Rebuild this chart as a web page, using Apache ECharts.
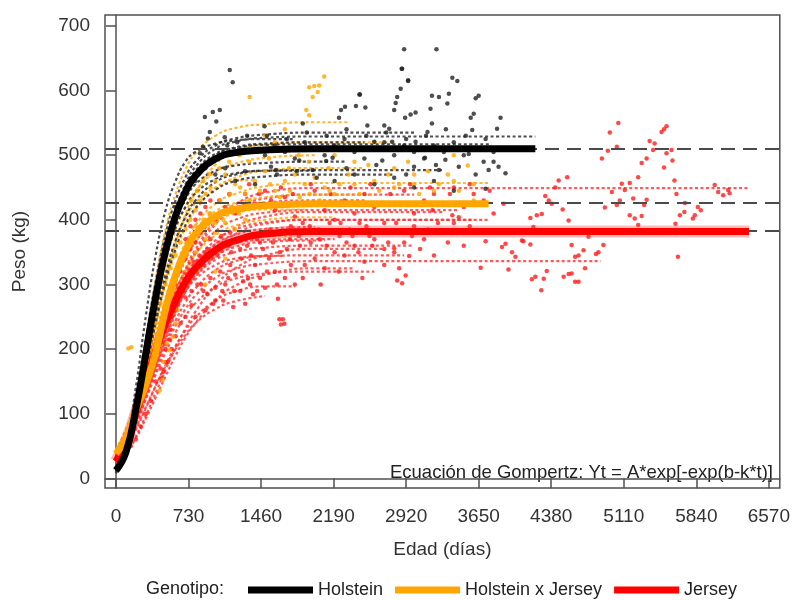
<!DOCTYPE html>
<html>
<head>
<meta charset="utf-8">
<script src="https://cdn.jsdelivr.net/npm/echarts@6/dist/echarts.min.js"></script>
<style>html,body{margin:0;padding:0;background:#fff}#c{width:793px;height:600px}</style>
</head>
<body>
<div id="c"></div>
<script>
// ---------- data ----------
const ages = [0, 100, 200, 300, 400, 500, 600, 700, 800, 1000, 1200, 1500, 2000];
const xTicks = [0, 730, 1460, 2190, 2920, 3650, 4380, 5110, 5840, 6570];
const yTicks = [0, 100, 200, 300, 400, 500, 600, 700];
const refLevels = [510, 426, 383];

// mean Gompertz curves per genotype (value at each age in `ages`), and last age drawn
const holsteinMean = [12, 40, 106, 192, 280, 352, 406, 443, 468, 494, 504, 508, 510];
const holsteinMeanEnd = 4220;
const hxjMean = [38, 62, 105, 145, 195, 262, 315, 352, 378, 405, 416, 422, 425];
const hxjMeanEnd = 3750;
const jerseyMean = [26, 57, 101, 149, 197, 240, 275, 304, 325, 353, 368, 378, 382];
const jerseyMeanEnd = 6370;

// individual animal curves: [lastAge, values...]
const holsteinAnimals = [
  [4220, 10, 38, 105, 195, 285, 360, 415, 455, 482, 510, 521, 527, 529],
  [3780, 12, 42, 112, 203, 292, 362, 415, 452, 476, 502, 511, 516, 517],
  [3280, 15, 45, 112, 195, 275, 340, 388, 420, 441, 463, 472, 476, 477],
  [2500, 8, 35, 100, 190, 280, 352, 405, 445, 472, 500, 512, 518, 520],
  [2300, 12, 44, 115, 205, 290, 355, 400, 432, 455, 476, 484, 488, 490],
  [1800, 12, 50, 140, 250, 345, 415, 460, 490, 505, 518, 523, 525],
  [2800, 14, 40, 95, 165, 240, 305, 355, 392, 418, 446, 460, 467, 470],
  [3000, 12, 45, 120, 215, 305, 378, 430, 466, 490, 515, 526, 532, 535],
  [2000, 14, 42, 100, 175, 250, 315, 368, 405, 430, 458, 470, 476]
];
const hxjAnimals = [
  [3750, 40, 68, 110, 160, 215, 275, 325, 365, 392, 425, 440, 452, 457],
  [2350, 35, 60, 120, 210, 305, 385, 440, 478, 503, 530, 542, 548, 551],
  [2000, 40, 70, 125, 195, 270, 335, 385, 420, 445, 474, 487, 496, 500],
  [2600, 45, 75, 120, 170, 225, 280, 325, 360, 385, 413, 426, 435, 439],
  [2200, 42, 70, 112, 158, 205, 250, 290, 322, 347, 376, 391, 400, 404],
  [1800, 40, 65, 102, 143, 185, 227, 264, 295, 318, 348, 364, 375],
  [1400, 42, 72, 125, 190, 260, 320, 368, 402, 426, 450, 461],
  [2500, 38, 66, 115, 175, 240, 300, 350, 388, 415, 448, 465, 476, 480],
  [1900, 44, 74, 118, 165, 215, 262, 305, 340, 366, 396, 410, 416],
  [2800, 36, 62, 108, 168, 238, 305, 362, 408, 442, 485, 506, 516, 520]
];
const jerseyAnimals = [
  [6380, 30, 60, 100, 148, 198, 245, 288, 324, 354, 398, 424, 442, 449],
  [3750, 28, 58, 100, 147, 195, 240, 278, 310, 335, 368, 385, 396, 400],
  [4875, 25, 50, 85, 125, 165, 203, 236, 262, 283, 310, 324, 332, 336],
  [3580, 30, 55, 90, 130, 172, 215, 255, 290, 318, 356, 378, 394, 400],
  [3450, 28, 58, 100, 150, 200, 248, 288, 322, 348, 382, 400, 411, 415],
  [3000, 26, 55, 95, 140, 185, 227, 262, 290, 312, 338, 350, 357, 360],
  [2500, 30, 60, 104, 155, 208, 258, 302, 338, 366, 402, 419, 427, 430],
  [2600, 25, 50, 84, 122, 160, 195, 226, 251, 271, 296, 309, 317, 320],
  [2200, 28, 60, 105, 155, 205, 250, 286, 314, 334, 356, 365, 369, 370],
  [1800, 22, 45, 75, 108, 143, 176, 205, 229, 249, 275, 289, 297],
  [2900, 27, 56, 96, 141, 187, 228, 262, 289, 308, 330, 340, 344, 345],
  [2000, 30, 58, 98, 145, 193, 238, 277, 308, 332, 362, 377, 386, 389],
  [3000, 28, 55, 92, 137, 185, 233, 277, 316, 348, 393, 417, 433, 439],
  [1500, 25, 48, 78, 110, 143, 174, 200, 222, 240, 262, 274, 282],
  [2400, 20, 38, 62, 92, 125, 158, 190, 218, 240, 275, 298, 315, 325],
  [2700, 22, 40, 65, 97, 132, 168, 202, 232, 258, 298, 325, 345, 355],
  [3300, 26, 52, 88, 130, 175, 220, 260, 294, 322, 362, 388, 405, 412],
  [2100, 28, 57, 96, 140, 185, 226, 262, 292, 314, 343, 358, 366, 368],
  [1700, 24, 50, 86, 128, 170, 210, 244, 272, 294, 322, 336, 344]
];

// observed weights [age, kg]
const holsteinObs = [
  [2880,634],[2865,603],[2940,615],[2455,594],[2830,590],[3180,592],[3250,590],[3350,595],[3385,620],[3435,615],
  [3650,592],[3620,588],[2815,581],[2800,570],[2965,563],[3015,566],[2910,558],[3165,572],[3335,580],[3600,564],
  [3570,558],[3870,558],[3835,541],[2415,576],[2510,574],[2305,575],[2265,570],[2245,558],[1880,549],[1495,545],
  [2530,546],[2700,546],[2750,541],[3180,549],[3135,536],[3585,539],[2115,491],[2180,496],[2680,492],[3110,496],
  [3315,493],[3450,482],[3750,477],[3800,490],[3920,472],[3550,502],[3400,510],[3015,521],[2780,521],[2600,521],
  [1980,477],[1610,477],[1560,482],[1845,492],[3000,482],[3250,477],[3720,448],[3850,482],
  [1145,632],[1175,613],[975,567],[1045,570],[895,559],[1010,552],[945,536],[925,526],[1095,528],[875,513],[845,503],
  [2900,664],[3225,664],[2875,634],[2940,616],[2450,594],
  [1500,500],[1600,515],[1700,505],[1800,495],[1900,520],[2000,510],[2100,500],[2200,515],[2300,525],[2400,505],
  [2500,495],[2600,510],[2700,520],[2800,500],[2900,515],[3000,505],[3100,495],[3200,515],[3300,505],[3400,520],
  [3500,500],[3600,510],[3700,490],[3800,505],[1000,470],[1100,480],[1200,460],[1300,475],[1400,455],[900,480],
  [800,460],[700,440],[600,420],[2200,460],[2400,470],[2600,455],[2800,465],[3000,450],[3200,460],[3400,445],
  [1520,530],[1720,525],[1920,535],[2120,530],[2320,540],[2520,530],[2720,535],[2920,525],[3120,530],[3320,540],
  [3520,530],[3720,525],[1220,520],[1320,530],[1120,515],[1620,470],[1820,475],[2020,465],[2320,480],[2620,485],
  [2920,470],[3220,485],[3620,470]
];
const hxjObs = [
  [300,180],[350,210],[400,240],[450,270],[500,300],[550,325],[600,345],[650,365],[700,385],[750,400],
  [800,415],[850,430],[900,440],[950,450],[1000,460],[1100,470],[1200,455],[1300,440],[1400,460],[1500,475],
  [1600,445],[1700,460],[1800,470],[1900,455],[2000,465],[2100,450],[2200,440],[2400,455],[2600,460],[2800,450],
  [3000,455],[3200,445],[3400,460],[3600,455],[155,203],[125,201],[540,198],[470,152],[440,136],[510,209],
  [575,219],[600,240],[620,260],[480,180],[2095,622],[2045,608],[1995,607],[1945,605],[2030,598],[1980,590],
  [1915,570],[1945,562],[1345,590],[1500,530],[1600,520],[1700,540],[1800,510],[2200,500],[2400,490],[2600,520],
  [2800,480],[3000,470],[3400,500],[3600,430],[800,350],[900,370],[1000,380],[1100,395],[1200,385],[1300,400],
  [900,300],[1000,320],[1100,340],[700,300],[800,320],[3540,484],
  [760,430],[820,445],[880,460],[940,470],[1040,480],[1140,490],[1240,500],[1340,490],[1440,505],[1540,495],
  [1640,510],[1740,480],[1840,500],[1940,490],[2140,480],[2340,470],[2540,485],[2740,470],[2940,490],[3140,475],
  [3340,470],[650,330],[700,345],[750,370],[850,390],[950,410],[1050,430],[1150,440],[1250,450],[1350,430],
  [1450,445],[1550,455],[1650,435],[1750,445],[1850,435],[1950,440],[2050,430],[2150,445],[2250,455],[2450,440],
  [2650,445],[2850,455],[3050,440],[3250,455],[3450,445],[400,190],[450,215],[500,250],[550,280],[350,160],
  [250,120],[200,100],[150,80],
  [450,240],[520,275],[560,300],[620,325],[680,345],[740,362],[780,375],[840,385],[900,393],[960,400],
  [1020,405],[1100,410],[1180,413],[1260,418],[1340,420],[1420,421],[500,250],[580,295],[660,330],[720,365],
  [800,390],[880,400],[940,410],[1000,395],[1080,400],[1160,420],[1240,410],[1320,428]
];
const jerseyObs = [
  [700,280],[760,268],[820,300],[880,290],[950,310],[1000,295],[1050,320],[1100,300],[1150,330],[1200,315],
  [1250,290],[1300,270],[1350,300],[1400,330],[1450,310],[650,240],[600,220],[560,200],[520,180],[480,165],
  [800,250],[900,260],[980,270],[1080,275],[1180,265],[1280,305],[1380,285],[1500,295],[1600,320],[1700,310],
  [1800,300],[1900,330],[2000,340],[2100,325],[2200,350],[2300,345],[2400,360],[2500,335],[2600,370],[2700,355],
  [2800,380],[2900,365],[3000,390],[3100,370],[3200,345],[3300,380],[3400,395],[3500,360],[1630,278],[1645,246],
  [1680,246],[1660,238],[1695,239],[2830,306],[2880,302],[2850,325],[2915,314],[2800,356],[2800,350],[2950,344],
  [3185,415],[3385,407],[3450,404],[3720,367],[3920,363],[3885,358],[3985,350],[4020,343],[3670,326],[3950,323],
  [4100,367],[1000,400],[1100,420],[1200,410],[1300,440],[1400,425],[1500,445],[1600,415],[1700,435],[1800,405],
  [1900,425],[2000,445],[2100,415],[2200,400],[2300,430],[2400,410],[2500,440],[2600,420],[2700,395],[2800,425],
  [2900,445],[3000,410],[3100,430],[3200,440],[3300,425],[3400,450],[3500,420],[3600,440],[3700,430],[3800,410],
  [3900,425],[900,350],[950,370],[1050,360],[1150,380],[1250,355],[1350,375],[1450,365],[1550,385],[1650,350],
  [1750,370],[1850,360],[1950,390],[2050,370],[2150,395],[2250,375],[2350,385],[2450,395],[2550,375],
  [600,300],[650,320],[700,340],[750,355],[800,365],[850,380],[700,370],[750,390],[800,400],[850,410],[900,420],[950,430],
  [400,150],[450,170],[500,200],[550,230],[350,120],[300,100],[250,80],[200,60],[150,50],[100,40],[50,30],
  [560,250],[620,270],[680,300],[740,320],[780,335],[840,345],[880,330],[920,355],[960,340],[1020,345],
  [1060,375],[1120,360],[1160,350],[1220,370],[1260,340],[1320,360],[1360,345],[1420,370],[1480,355],[1540,340],
  [1580,365],[1640,380],[1720,355],[1760,390],[1840,375],[1880,395],[1960,365],[2040,385],[2120,360],[2180,380],
  [2260,395],[2320,365],[2380,375],[2440,350],[2520,390],[2580,360],[2660,380],[2740,365],[2820,395],[2980,375],
  [3060,355],[3140,385],[3240,395],[3340,365],[3440,380],[3560,390],[860,300],[920,285],[1000,275],[1070,290],
  [1130,310],[1190,290],[1270,320],[1330,310],[1420,290],[1520,320],[1620,300],[1760,330],[1880,310],[2060,300],
  [2240,320],[2480,310],[2700,330],[1040,430],[1140,440],[1240,420],[1340,455],[1440,440],[1560,430],[1660,450],
  [1780,440],[1960,455],[2160,440],[2360,450],[2560,455],[2760,440],[2960,455],[3160,450],[3360,440],[3560,455],
  [3760,445],[700,250],[760,290],[640,280],[600,260],[540,215],[500,180],[460,155],
  [450,215],[520,245],[580,265],[640,285],[700,300],[760,315],[820,328],[880,338],[940,345],[1000,350],
  [1080,358],[1160,365],[1240,370],[1320,373],[480,210],[560,250],[620,270],[680,290],[740,305],[800,320],
  [860,330],[920,340],[980,348],[1060,352],[1140,360],[1220,366],
  [5055,550],[4970,535],[5040,513],[4950,507],[4890,495],[5370,522],[5420,518],[5490,536],[5540,545],[5515,540],
  [5405,508],[5340,495],[5290,488],[5590,508],[5540,503],[5600,492],[5515,481],[5255,466],[5170,457],[5090,456],
  [4990,443],[5120,446],[5205,433],[5070,430],[5340,431],[5040,423],[4920,419],[5315,423],[5620,461],[5640,440],
  [5725,426],[5720,412],[5675,407],[5630,394],[5855,420],[5885,415],[5825,407],[5805,402],[6025,454],[6060,443],
  [6110,438],[6160,446],[6175,441],[5170,407],[5220,402],[5290,406],[5255,392],[5655,343],[4755,374],[4905,361],
  [4855,350],[4830,347],[4720,325],[4585,361],[4620,343],[4655,345],[4705,353],[4585,317],[4555,316],[4505,312],
  [4620,304],[4655,304],[4555,399],[4495,416],[4385,425],[4355,430],[4320,437],[4420,450],[4455,461],[4540,466],
  [4285,409],[4235,407],[4170,403],[4200,389],[4170,362],[4085,368],[4335,321],[4305,309],[4220,312],[4185,308],[4280,291]
];

// ---------- build ----------
function curve(values, end) {
  const pts = values.map((v, i) => [ages[i], v]);
  if (end > ages[values.length - 1]) pts.push([end, values[values.length - 1]]);
  return pts;
}
const FONT = 'Liberation Sans';
const SMOOTH = 0.5;
const series = [];
function animals(list, color, name) {
  list.forEach((a, k) => {
    series.push({
      type: 'line', name: name + k, data: curve(a.slice(1), a[0]), smooth: SMOOTH,
      showSymbol: false, silent: true, z: 2,
      lineStyle: { color: color, width: 2.2, type: [3, 2.5], opacity: 0.8 }
    });
  });
}
animals(jerseyAnimals, '#ff3030', 'ja');
animals(hxjAnimals, '#ffa500', 'ha');
animals(holsteinAnimals, '#202020', 'hoa');

function obs(data, color, name) {
  series.push({
    type: 'scatter', name: name, data: data, symbol: 'circle', symbolSize: 4.5, silent: true, z: 3,
    itemStyle: { color: color, opacity: 0.8 }
  });
}
obs(jerseyObs, '#ff1a1a', 'jo');
obs(hxjObs, '#ffa500', 'ho');
obs(holsteinObs, '#222222', 'hoo');

series.push({ type: 'line', name: 'jhalo', data: curve(jerseyMean, jerseyMeanEnd), smooth: SMOOTH,
  showSymbol: false, silent: true, z: 4, lineStyle: { color: 'rgba(255,60,60,0.35)', width: 12 } });
series.push({ type: 'line', name: 'Jersey', data: curve(jerseyMean, jerseyMeanEnd), smooth: SMOOTH,
  showSymbol: false, silent: true, z: 5, itemStyle: { color: '#ff0000' }, lineStyle: { color: '#ff0000', width: 7 } });
series.push({ type: 'line', name: 'Holstein x Jersey', data: curve(hxjMean, hxjMeanEnd), smooth: SMOOTH,
  showSymbol: false, silent: true, z: 6, itemStyle: { color: '#ffa500' }, lineStyle: { color: '#ffa500', width: 7 } });
series.push({ type: 'line', name: 'Holstein', data: curve(holsteinMean, holsteinMeanEnd), smooth: SMOOTH,
  showSymbol: false, silent: true, z: 7, itemStyle: { color: '#000000' }, lineStyle: { color: '#000000', width: 7 } });
series.push({ type: 'line', name: 'ref', data: [], silent: true, z: 8,
  markLine: { silent: true, symbol: 'none', label: { show: false },
    lineStyle: { color: '#4a4a4a', width: 2, type: [14, 8] },
    data: refLevels.map(v => ({ yAxis: v })) } });

const chart = echarts.init(document.getElementById('c'), null, { renderer: 'canvas' });
chart.setOption({
  animation: false,
  backgroundColor: '#fff',
  textStyle: { fontFamily: FONT },
  grid: { left: 105, right: 11, top: 15, bottom: 112, show: true, borderColor: '#505050', borderWidth: 1.5 },
  xAxis: {
    type: 'value', min: -110, max: 6680,
    name: 'Edad (días)', nameLocation: 'middle', nameGap: 52,
    nameTextStyle: { fontFamily: FONT, fontSize: 19, color: '#333' },
    axisLine: { show: true, lineStyle: { color: '#505050', width: 1.5 } },
    axisTick: { show: true, length: 10, customValues: xTicks, lineStyle: { color: '#505050', width: 1.5 } },
    axisLabel: { customValues: xTicks, formatter: v => String(v), margin: 19, fontFamily: FONT, fontSize: 19, color: '#333' },
    splitLine: { show: false }
  },
  yAxis: {
    type: 'value', min: -15, max: 717,
    name: 'Peso (kg)', nameLocation: 'middle', nameGap: 76,
    nameTextStyle: { fontFamily: FONT, fontSize: 19, color: '#333' },
    axisLine: { show: true, lineStyle: { color: '#505050', width: 1.5 } },
    axisTick: { show: true, length: 10, customValues: yTicks, lineStyle: { color: '#505050', width: 1.5 } },
    axisLabel: { customValues: yTicks, formatter: v => String(v), margin: 15, fontFamily: FONT, fontSize: 19, color: '#333' },
    splitLine: { show: false }
  },
  legend: {
    data: ['Holstein', 'Holstein x Jersey', 'Jersey'],
    left: 243, top: 576, icon: 'rect', itemWidth: 65, itemHeight: 7, itemGap: 12,
    selectedMode: false,
    textStyle: { fontFamily: FONT, fontSize: 18, color: '#222' }
  },
  graphic: [
    { type: 'text', left: 146, top: 580, style: { text: 'Genotipo:', font: '18px "Liberation Sans"', fill: '#222' } },
    { type: 'text', right: 20, top: 463, style: { text: 'Ecuación de Gompertz: Yt = A*exp[-exp(b-k*t)]', font: '18.5px "Liberation Sans"', fill: '#222' } }
  ],
  series: series
});
</script>
</body>
</html>
